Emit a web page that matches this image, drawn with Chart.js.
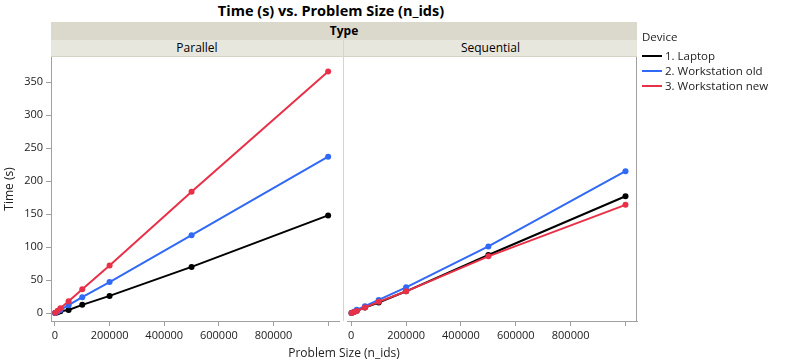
<!DOCTYPE html>
<html><head><meta charset="utf-8">
<script src="https://cdn.jsdelivr.net/npm/chart.js@4/dist/chart.umd.min.js"></script>
<style>
body{margin:0;width:791px;height:364px;position:relative;background:#fff;font-family:"Open Sans",sans-serif;overflow:hidden;color:#000}
#title{position:absolute;left:0;width:662px;top:0;height:21px;text-align:center;font-weight:bold;font-size:14.5px;line-height:21px}
#typeband{position:absolute;left:51px;top:22px;width:586px;height:18px;background:#dbd9cb;text-align:center;font-weight:bold;font-size:12px;line-height:18px}
.sub{position:absolute;top:40px;height:16px;background:#e8e7de;text-align:center;font-size:12px;line-height:16px;border-bottom:1px solid #d6d4c6}
#divider{position:absolute;left:343px;top:40px;width:1px;height:281px;background:#d4d4d4}
#xtitle{position:absolute;left:51px;width:586px;top:345px;text-align:center;font-size:12px;line-height:16px;color:#222}
#legend{position:absolute;left:642px;top:28px;font-size:11.5px;color:#222}
#legend .h{height:18px;line-height:18px;margin-bottom:2px}
#legend .it{height:15px;line-height:15px;white-space:nowrap}
#legend .sw{display:inline-block;width:20px;height:2px;vertical-align:middle;margin-right:3px;position:relative;top:-1px}
canvas{position:absolute;top:0}
</style></head><body>
<div id="title">Time (s) vs. Problem Size (n_ids)</div>
<div id="typeband">Type</div>
<div class="sub" style="left:51px;width:292px">Parallel</div>
<div class="sub" style="left:344px;width:293px">Sequential</div>
<canvas id="c1" width="343" height="364" style="left:0"></canvas>
<canvas id="c2" width="300" height="364" style="left:343px"></canvas>
<div id="divider"></div>
<div id="xtitle">Problem Size (n_ids)</div>
<div id="legend"></div>
<script>
// ---- data ----
const types = ["Parallel", "Sequential"];
const devices = ["1. Laptop", "2. Workstation old", "3. Workstation new"];
const deviceColors = ["#000000", "#3069f5", "#e83148"];
const problemSizes = [1000, 10000, 20000, 50000, 100000, 200000, 500000, 1000000];
const parallelLaptop = [0.2, 1.4, 2.9, 4.8, 12.5, 26, 70, 148];
const parallelOld = [0.3, 2.4, 4.8, 12, 24, 47, 118, 237];
const parallelNew = [0.4, 3.7, 7.4, 18, 36, 72, 184, 366];
const sequentialLaptop = [0.2, 1.7, 3.4, 8.5, 16, 33, 88, 177];
const sequentialOld = [0.2, 2.1, 5, 10.5, 20, 39, 101, 215];
const sequentialNew = [0.2, 1.6, 3.2, 8.5, 17, 33, 86, 164];
const yTickValues = [0, 50, 100, 150, 200, 250, 300, 350];
const xTickValues = [0, 200000, 400000, 600000, 800000, 1000000];
const xTickLabels = ["0", "200000", "400000", "600000", "800000", ""];

// ---- legend ----
const lg = document.getElementById('legend');
lg.innerHTML = '<div class="h">Device</div>' + devices.map((d, i) =>
  '<div class="it"><span class="sw" style="background:' + deviceColors[i] + '"></span>' + d + '</div>').join('');

function makeSets(series) {
  return series.map((vals, i) => ({
    label: devices[i],
    data: problemSizes.map((x, k) => ({x: x, y: vals[k]})),
    borderColor: deviceColors[i],
    backgroundColor: deviceColors[i],
    borderWidth: 2,
    pointRadius: 3,
    pointBorderWidth: 0,
    pointBackgroundColor: deviceColors[i],
    order: 3 - i,
    tension: 0
  }));
}
const tickFont = {family: "Open Sans", size: 11};
function xScale(min, max) {
  return {
    type: 'linear', min: min, max: max,
    afterBuildTicks: s => { s.ticks = xTickValues.map(v => ({value: v})); },
    afterFit: s => { s.height = 364 - 321; },
    ticks: {autoSkip: false, maxRotation: 0, color: '#222', font: tickFont, padding: 3,
      callback: (v) => { const i = xTickValues.indexOf(v); return i >= 0 ? xTickLabels[i] : ''; }},
    grid: {drawOnChartArea: false, drawTicks: true, tickLength: 5, color: '#a0a0a0'},
    border: {color: '#a0a0a0', width: 1}
  };
}
function yScale(show) {
  return {
    type: 'linear', min: -12, max: 388, display: show,
    afterBuildTicks: s => { s.ticks = yTickValues.map(v => ({value: v})); },
    afterFit: s => { s.width = show ? 51 : 0; },
    ticks: {color: '#222', font: tickFont, padding: 3},
    grid: {drawOnChartArea: false, drawTicks: true, tickLength: 5, color: '#a0a0a0'},
    border: {color: '#a0a0a0', width: 1},
    title: {display: true, text: 'Time (s)', color: '#222', font: {family: "Open Sans", size: 12}, padding: {top: 2, bottom: 0}}
  };
}
const rightBorder = {
  id: 'rb',
  afterDraw(chart, args, opts) {
    if (!opts.draw) return;
    const a = chart.chartArea, c = chart.ctx;
    c.save(); c.strokeStyle = '#a0a0a0'; c.lineWidth = 1;
    c.beginPath(); c.moveTo(a.right - 0.5, a.top); c.lineTo(a.right - 0.5, a.bottom); c.stroke();
    c.restore();
  }
};
function common(extraPad) {
  return {
    responsive: false, animation: false,
    layout: {padding: Object.assign({top: 57, left: 0, right: 0, bottom: 0}, extraPad)},
    plugins: {legend: {display: false}, tooltip: {enabled: false}, title: {display: false}}
  };
}
const o1 = common({});
o1.scales = {x: xScale(-14440, 1039700), y: yScale(true)};
o1.plugins.rb = {draw: false};
new Chart(document.getElementById('c1'), {
  type: 'line',
  data: {datasets: makeSets([parallelLaptop, parallelOld, parallelNew])},
  options: o1, plugins: [rightBorder]
});
const o2 = common({right: 6});
o2.scales = {x: xScale(-15500, 1042000), y: yScale(false)};
o2.plugins.rb = {draw: true};
new Chart(document.getElementById('c2'), {
  type: 'line',
  data: {datasets: makeSets([sequentialLaptop, sequentialOld, sequentialNew])},
  options: o2, plugins: [rightBorder]
});
</script>
</body></html>
